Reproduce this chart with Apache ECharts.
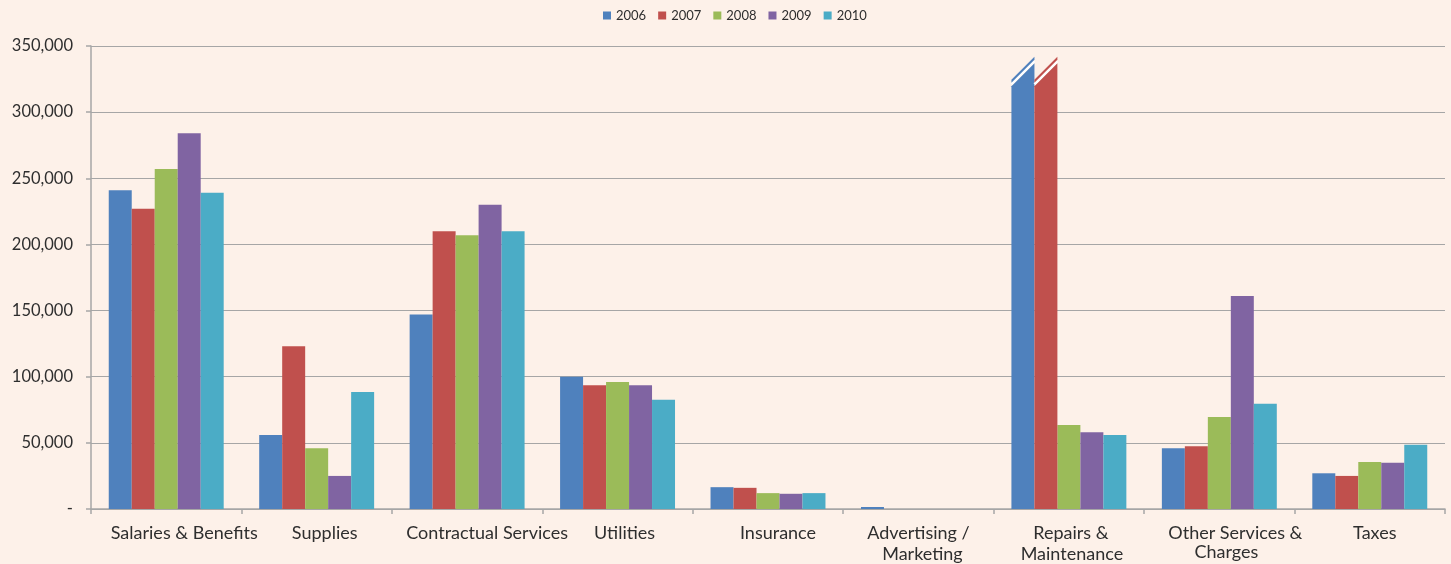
<!DOCTYPE html>
<html>
<head>
<meta charset="utf-8">
<script src="https://cdn.jsdelivr.net/npm/echarts@6/dist/echarts.min.js"></script>
<style>
html,body{margin:0;padding:0;background:#fdf1e9;}
#chart{width:1451px;height:564px;}
</style>
</head>
<body>
<div id="chart"></div>
<script>
const categories = ['Salaries & Benefits', 'Supplies', 'Contractual Services', 'Utilities', 'Insurance',
  'Advertising /\nMarketing', 'Repairs &\nMaintenance', 'Other Services &\nCharges', 'Taxes'];
const years = ['2006', '2007', '2008', '2009', '2010'];
const v2006 = [241000, 56000, 147000, 100000, 16500, 1500, 337000, 46000, 27000];
const v2007 = [227000, 123000, 210000, 93500, 16000, 0, 337000, 47500, 25000];
const v2008 = [257000, 46000, 207000, 96000, 12000, 0, 63500, 69500, 35500];
const v2009 = [284000, 25000, 230000, 93500, 11500, 0, 58000, 161000, 35000];
const v2010 = [239000, 88500, 210000, 82500, 12000, 0, 56000, 79500, 48500];
// bars that run off the scale and are drawn with a break mark: [categoryIndex, yearIndex]
const brokenBars = [[6, 0], [6, 1]];
const yTicks = [0, 50000, 100000, 150000, 200000, 250000, 300000, 350000];

// layout: [horizontal shift, extra top space] (px) of each category label line, as in the original
const labelShift = [[[18, 0]], [[8, 0]], [[20, 0]], [[7, 0]], [[10, 0]],
  [[0, 0], [4, 4]], [[2, 0], [3, 4]], [[16, 0], [7, 0]], [[5, 0]]];

const colors = ['#4f81bd', '#c0504d', '#9bbb59', '#8064a2', '#4bacc6'];
const allValues = [v2006, v2007, v2008, v2009, v2010];
const GAP = 0.236;
const isBroken = (c, s) => brokenBars.some(b => b[0] === c && b[1] === s);

const rich = {};
labelShift.forEach(arr => arr.forEach(([o, t]) => {
  rich['p' + o + '_' + t] = { fontFamily: 'Lato', fontSize: 18, color: '#2e2e2e', lineHeight: 19, padding: [t, 0, 0, 2 * o] };
}));

const series = years.map((y, s) => ({
  name: y,
  type: 'bar',
  barGap: '0%',
  barCategoryGap: (GAP * 100) + '%',
  itemStyle: { color: colors[s] },
  data: allValues[s].map((v, c) => isBroken(c, s) ? { value: v, itemStyle: { opacity: 0 } } : v)
}));

series.push({
  name: 'break',
  type: 'custom',
  z: 5,
  data: brokenBars.map(b => [b[0], b[1], allValues[b[1]][b[0]]]),
  encode: { x: 0, y: 2 },
  renderItem: function (params, api) {
    const cat = api.value(0), si = api.value(1), v = api.value(2);
    const band = api.size([1, 0])[0];
    const bw = band * (1 - GAP) / 5;
    const base = api.coord([cat, 0]);
    const x0 = base[0] - bw * 2.5 + si * bw, x1 = x0 + bw;
    const yb = base[1];
    const yr = api.coord([cat, v])[1];
    const yl = yr + bw;
    const col = colors[si];
    return {
      type: 'group',
      children: [
        { type: 'polygon', shape: { points: [[x0, yb], [x0, yl], [x1, yr], [x1, yb]] }, style: { fill: col } },
        { type: 'line', shape: { x1: x0, y1: yl - 2, x2: x1, y2: yr - 2 }, style: { stroke: '#ffffff', lineWidth: 2.5 } },
        { type: 'polygon', shape: { points: [[x0, yl - 3.5], [x1, yr - 3.5], [x1, yr - 6.5], [x0, yl - 6.5]] }, style: { fill: col } }
      ]
    };
  }
});

const chart = echarts.init(document.getElementById('chart'));
chart.setOption({
  backgroundColor: '#fdf1e9',
  animation: false,
  color: colors,
  legend: {
    data: years,
    left: 598, top: 4,
    itemWidth: 8, itemHeight: 8, itemGap: 12,
    icon: 'rect',
    textStyle: { fontFamily: 'Lato', fontSize: 13, color: '#2e2e2e' }
  },
  grid: { left: 91, right: 6, top: 46, bottom: 55, containLabel: false },
  xAxis: {
    type: 'category',
    data: categories,
    axisLine: { lineStyle: { color: '#a6a6a6', width: 1.5 } },
    axisTick: { show: true, length: 5, lineStyle: { color: '#a6a6a6', width: 1.5 } },
    axisLabel: {
      fontFamily: 'Lato', fontSize: 18, color: '#2e2e2e', margin: 15, lineHeight: 19, interval: 0,
      formatter: (val, idx) => val.split('\n').map((line, i) => {
        const s = labelShift[idx][i];
        return '{p' + s[0] + '_' + s[1] + '|' + line + '}';
      }).join('\n'),
      rich: rich
    }
  },
  yAxis: {
    type: 'value',
    min: yTicks[0], max: yTicks[yTicks.length - 1], interval: yTicks[1] - yTicks[0],
    axisLine: { show: true, lineStyle: { color: '#a6a6a6', width: 1.5 } },
    axisTick: { show: true, length: 5, lineStyle: { color: '#a6a6a6', width: 1.5 } },
    splitLine: { lineStyle: { color: '#a6a6a6', width: 1.2 } },
    axisLabel: {
      fontFamily: 'Lato', fontSize: 16.5, color: '#2e2e2e', margin: 18,
      formatter: v => v === 0 ? '-' : v.toLocaleString('en-US')
    }
  },
  series: series
});
</script>
</body>
</html>
